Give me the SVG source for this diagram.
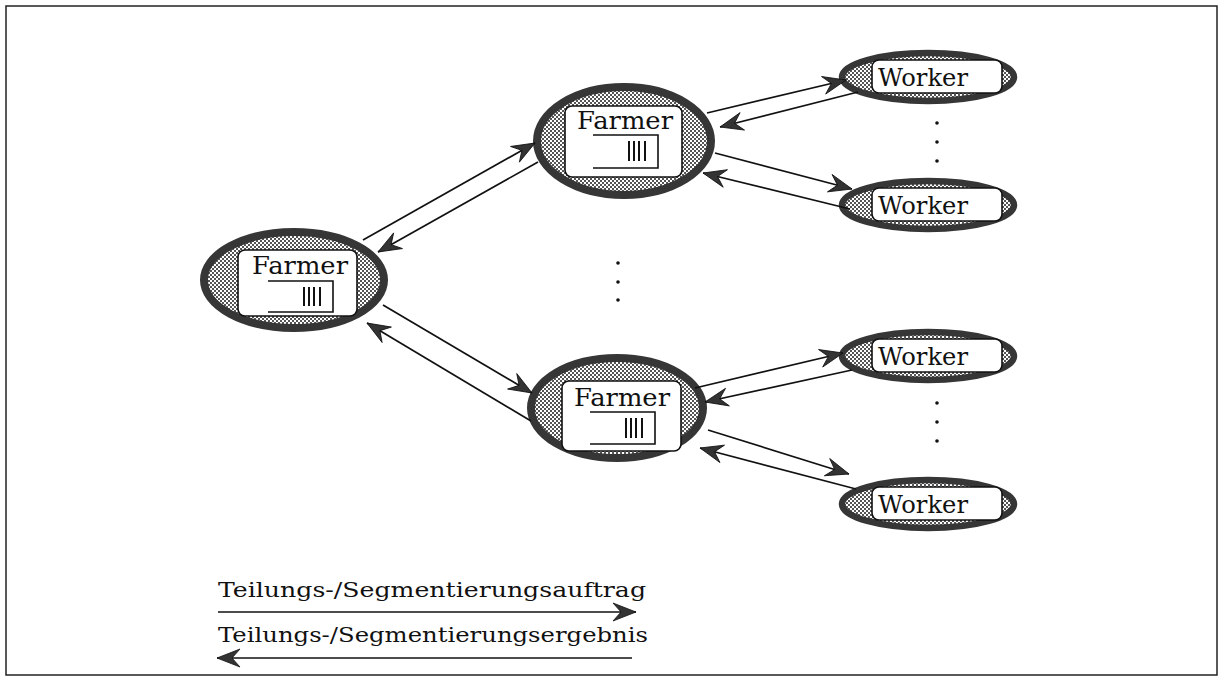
<svg xmlns="http://www.w3.org/2000/svg" width="1224" height="686" viewBox="0 0 1224 686">
<style>
.lbl{font-family:"DejaVu Serif","Liberation Serif",serif;fill:#111}
.node{font-size:25px}
.leg{font-size:21px}
.conn{stroke:#111;stroke-width:1.7;fill:none;marker-end:url(#arr)}
.fe{fill:url(#stip);stroke:#363636;stroke-width:8}
.we{fill:url(#stip);stroke:#363636;stroke-width:6.5}
.box{fill:#fff;stroke:#111;stroke-width:1.6}
.ln{stroke:#111;stroke-width:1.6;fill:none}
.bar{stroke:#111;stroke-width:2}
.dot{fill:#111}
</style>
<defs>
<pattern id="stip" width="4" height="4" patternUnits="userSpaceOnUse">
<rect width="4" height="4" fill="#fff"/>
<rect width="2" height="2" fill="#555"/>
<rect x="2" y="2" width="2" height="2" fill="#555"/>
</pattern>
<marker id="arr" viewBox="-24 -11 26 22" refX="0" refY="0" markerWidth="26" markerHeight="22" markerUnits="userSpaceOnUse" orient="auto">
<path d="M0,0 L-23,-9 L-15,0 L-23,9 Z" fill="#333" stroke="#111" stroke-width="0.8"/>
</marker>
</defs>
<rect x="0" y="0" width="1224" height="686" fill="#fff"/>
<rect x="6" y="6" width="1211" height="669" fill="none" stroke="#222" stroke-width="1.5"/>

<g id="farmer-left">
<ellipse class="fe" cx="294" cy="280" rx="90" ry="48"/>
<rect class="box" x="238" y="250" width="119" height="66" rx="7"/>
<text class="lbl node" x="252" y="274" textLength="96" lengthAdjust="spacingAndGlyphs">Farmer</text>
<path class="ln" d="M268,281 H333 V312 H268"/>
<path class="bar" d="M304,287 V306 M309,287 V306 M314,287 V306 M320,287 V306"/>
</g>

<g id="farmer-top">
<ellipse class="fe" cx="624" cy="141" rx="87" ry="54"/>
<rect class="box" x="565" y="106" width="117" height="71" rx="7"/>
<text class="lbl node" x="577" y="129" textLength="96" lengthAdjust="spacingAndGlyphs">Farmer</text>
<path class="ln" d="M593,135 H658 V168 H593"/>
<path class="bar" d="M629,141 V161 M634,141 V161 M639,141 V161 M645,141 V161"/>
</g>

<g id="farmer-bottom">
<ellipse class="fe" cx="617" cy="408" rx="86" ry="50"/>
<rect class="box" x="562" y="381" width="119" height="70" rx="7"/>
<text class="lbl node" x="574" y="406" textLength="96" lengthAdjust="spacingAndGlyphs">Farmer</text>
<path class="ln" d="M590,412 H655 V444 H590"/>
<path class="bar" d="M626,418 V438 M631,418 V438 M636,418 V438 M642,418 V438"/>
</g>

<g id="worker-1">
<ellipse class="we" cx="928" cy="77" rx="86" ry="24"/>
<rect class="box" x="872" y="60" width="130" height="33" rx="7"/>
<text class="lbl node" x="878" y="86" textLength="90" lengthAdjust="spacingAndGlyphs">Worker</text>
</g>

<g id="worker-2">
<ellipse class="we" cx="928" cy="205" rx="86" ry="24"/>
<rect class="box" x="872" y="188" width="130" height="33" rx="7"/>
<text class="lbl node" x="878" y="214" textLength="90" lengthAdjust="spacingAndGlyphs">Worker</text>
</g>

<g id="worker-3">
<ellipse class="we" cx="928" cy="356" rx="86" ry="24"/>
<rect class="box" x="872" y="339" width="130" height="33" rx="7"/>
<text class="lbl node" x="878" y="365" textLength="90" lengthAdjust="spacingAndGlyphs">Worker</text>
</g>

<g id="worker-4">
<ellipse class="we" cx="928" cy="504" rx="86" ry="24"/>
<rect class="box" x="872" y="487" width="130" height="33" rx="7"/>
<text class="lbl node" x="878" y="513" textLength="90" lengthAdjust="spacingAndGlyphs">Worker</text>
</g>

<g id="ellipsis-dots">
<circle class="dot" cx="937" cy="123" r="1.8"/>
<circle class="dot" cx="937" cy="142" r="1.8"/>
<circle class="dot" cx="937" cy="161" r="1.8"/>
<circle class="dot" cx="618" cy="263" r="1.8"/>
<circle class="dot" cx="618" cy="282" r="1.8"/>
<circle class="dot" cx="618" cy="300" r="1.8"/>
<circle class="dot" cx="937" cy="403" r="1.8"/>
<circle class="dot" cx="937" cy="422" r="1.8"/>
<circle class="dot" cx="937" cy="441" r="1.8"/>
</g>

<g id="connectors">
<line class="conn" x1="363" y1="240" x2="535" y2="143"/>
<line class="conn" x1="538" y1="162" x2="378" y2="252"/>
<line class="conn" x1="383" y1="305" x2="532" y2="393"/>
<line class="conn" x1="531" y1="421" x2="367" y2="323"/>
<line class="conn" x1="707" y1="113" x2="846" y2="80"/>
<line class="conn" x1="858" y1="92" x2="720" y2="127"/>
<line class="conn" x1="715" y1="153" x2="852" y2="189"/>
<line class="conn" x1="850" y1="209" x2="703" y2="173"/>
<line class="conn" x1="695" y1="388" x2="843" y2="353"/>
<line class="conn" x1="852" y1="370" x2="705" y2="402"/>
<line class="conn" x1="708" y1="430" x2="849" y2="474"/>
<line class="conn" x1="856" y1="489" x2="700" y2="448"/>
</g>

<g id="legend">
<text class="lbl leg" x="218" y="597" textLength="428" lengthAdjust="spacingAndGlyphs">Teilungs-/Segmentierungsauftrag</text>
<line class="conn" x1="218" y1="612" x2="636" y2="612"/>
<text class="lbl leg" x="218" y="642" textLength="430" lengthAdjust="spacingAndGlyphs">Teilungs-/Segmentierungsergebnis</text>
<line class="conn" x1="632" y1="658" x2="217" y2="658"/>
</g>
</svg>
